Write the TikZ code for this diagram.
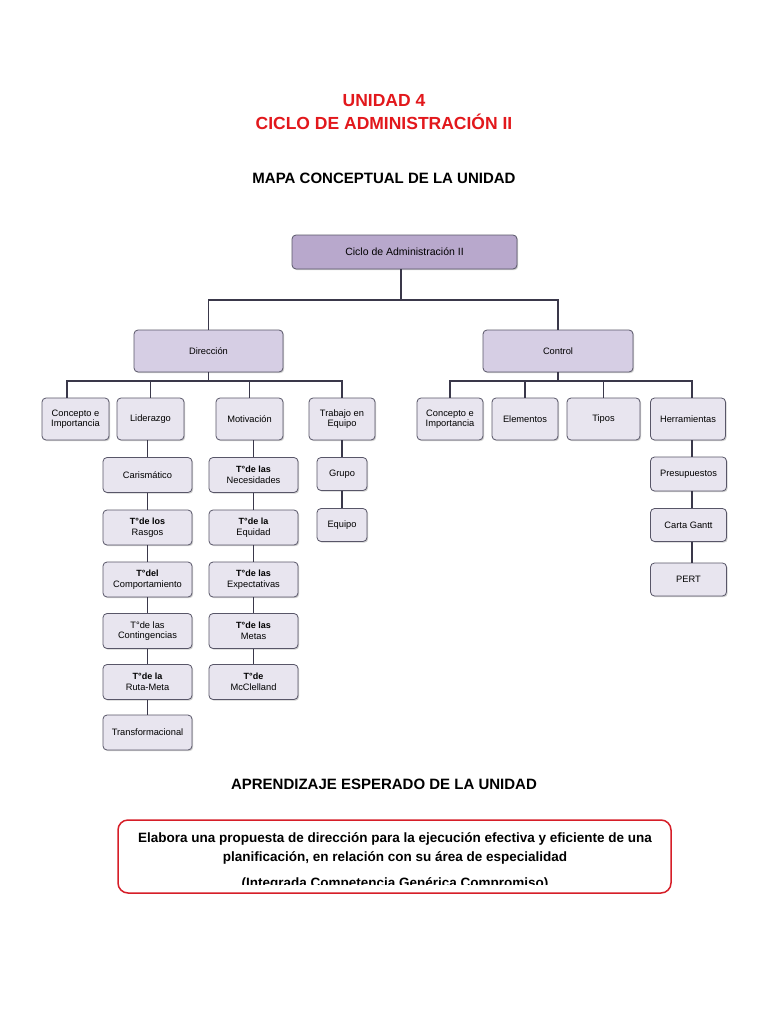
\documentclass[tikz,border=0pt]{standalone}
\usepackage{fontspec}
\setmainfont{Liberation Sans}
\usetikzlibrary{shadows}
\definecolor{titlered}{RGB}{226,24,28}
\definecolor{boxred}{RGB}{214,30,40}
\definecolor{cZero}{RGB}{184,168,204}
\definecolor{cOne}{RGB}{214,206,228}
\definecolor{cTwo}{RGB}{232,229,239}
\definecolor{boxline}{RGB}{88,86,104}
\definecolor{lineclr}{RGB}{58,56,74}
\newcommand{\tline}[1]{{\fontsize{9}{10.5}\selectfont\bfseries #1}}
\tikzset{
  box/.style={draw=boxline, rounded corners=4pt, line width=0.8pt, align=center, inner sep=1pt,
    font=\fontsize{9.3}{10.5}\selectfont,
    drop shadow={shadow xshift=1.2pt, shadow yshift=-1.2pt, opacity=0.3, fill=black!60}},
  lvlzero/.style={box, fill=cZero},
  lvlone/.style={box, fill=cOne},
  lvltwo/.style={box, fill=cTwo},
  conn/.style={draw=lineclr, line width=1.4pt},
  ttl/.style={font=\fontsize{17.5}{20}\selectfont\bfseries, text=titlered, align=center},
  hdr/.style={font=\fontsize{15}{17}\selectfont\bfseries},
  body/.style={font=\fontsize{13.5}{19}\selectfont\bfseries, anchor=base}
}
\begin{document}
\begin{tikzpicture}[x=1pt,y=-1pt]
\useasboundingbox[fill=white] (0,0) rectangle (768,1024);

% titles
\node[ttl] (t1) at (384,101) {UNIDAD 4};
\node[ttl] (t2) at (384,122) {CICLO DE ADMINISTRACIÓN II};
\node[hdr] (t3) at (384,178) {MAPA CONCEPTUAL DE LA UNIDAD};

% root
\node[lvlzero, minimum width=225pt, minimum height=34pt, font=\fontsize{10.5}{12}\selectfont] (root) at (404.5,252) {Ciclo de Administración II};
% level 1
\node[lvlone, minimum width=149pt, minimum height=42pt] (dir) at (208.5,351) {Dirección};
\node[lvlone, minimum width=150pt, minimum height=42pt] (ctl) at (558,351) {Control};

% level 2 Dirección
\node[lvltwo, minimum width=67pt, minimum height=42pt] (dconc) at (75.5,419) {Concepto e\\Importancia};
\node[lvltwo, minimum width=67pt, minimum height=42pt] (lid) at (150.5,419) {Liderazgo};
\node[lvltwo, minimum width=67pt, minimum height=42pt] (mot) at (249.5,419) {Motivación};
\node[lvltwo, minimum width=66pt, minimum height=42pt] (trab) at (342,419) {Trabajo en\\Equipo};

% level 2 Control
\node[lvltwo, minimum width=66pt, minimum height=42pt] (cconc) at (450,419) {Concepto e\\Importancia};
\node[lvltwo, minimum width=66pt, minimum height=42pt] (elem) at (525,419) {Elementos};
\node[lvltwo, minimum width=73pt, minimum height=42pt] (tipos) at (603.5,419) {Tipos};
\node[lvltwo, minimum width=75pt, minimum height=42pt] (herr) at (688,419) {Herramientas};

% Liderazgo chain
\node[lvltwo, minimum width=89pt, minimum height=35pt] (car) at (147.5,475) {Carismático};
\node[lvltwo, minimum width=89pt, minimum height=35pt] (ras) at (147.5,527.5) {\tline{T°de los}\\Rasgos};
\node[lvltwo, minimum width=89pt, minimum height=35pt] (com) at (147.5,579.5) {\tline{T°del}\\Comportamiento};
\node[lvltwo, minimum width=89pt, minimum height=35pt] (con) at (147.5,631) {T°de las\\Contingencias};
\node[lvltwo, minimum width=89pt, minimum height=35pt] (rut) at (147.5,682) {\tline{T°de la}\\Ruta-Meta};
\node[lvltwo, minimum width=89pt, minimum height=35pt] (tra) at (147.5,732.5) {Transformacional};

% Motivación chain
\node[lvltwo, minimum width=89pt, minimum height=35pt] (nec) at (253.5,475) {\tline{T°de las}\\Necesidades};
\node[lvltwo, minimum width=89pt, minimum height=35pt] (equ) at (253.5,527.5) {\tline{T°de la}\\Equidad};
\node[lvltwo, minimum width=89pt, minimum height=35pt] (exp) at (253.5,579.5) {\tline{T°de las}\\Expectativas};
\node[lvltwo, minimum width=89pt, minimum height=35pt] (met) at (253.5,631) {\tline{T°de las}\\Metas};
\node[lvltwo, minimum width=89pt, minimum height=35pt] (mcc) at (253.5,682) {\tline{T°de}\\McClelland};

% Trabajo chain
\node[lvltwo, minimum width=50pt, minimum height=33pt] (gru) at (342,474) {Grupo};
\node[lvltwo, minimum width=50pt, minimum height=33pt] (eqp) at (342,525) {Equipo};

% Herramientas chain
\node[lvltwo, minimum width=76pt, minimum height=34pt] (pre) at (688.5,474) {Presupuestos};
\node[lvltwo, minimum width=76pt, minimum height=33pt] (gan) at (688.5,525) {Carta Gantt};
\node[lvltwo, minimum width=76pt, minimum height=33pt] (per) at (688.5,579.5) {PERT};

% connectors
\draw[conn] (root.south -| 401,0) -- (401,300) coordinate (bus0);
\draw[conn] (bus0) -| (dir.north);
\draw[conn] (bus0) -| (ctl.north);

\draw[conn] (dir.south) -- (dir.south |- 0,381) coordinate (busd);
\draw[conn] (busd) -| (dconc.north -| 67,0);
\draw[conn] (busd) -| (trab.north);
\draw[conn] (lid.north) -- (lid.north |- busd);
\draw[conn] (mot.north) -- (mot.north |- busd);

\draw[conn] (ctl.south) -- (ctl.south |- 0,381) coordinate (busc);
\draw[conn] (busc) -| (cconc.north);
\draw[conn] (busc) -| (herr.north -| 692,0);
\draw[conn] (elem.north) -- (elem.north |- busc);
\draw[conn] (tipos.north) -- (tipos.north |- busc);

\draw[conn] (lid.south -| car.north) -- (car.north);
\draw[conn] (car.south) -- (ras.north);
\draw[conn] (ras.south) -- (com.north);
\draw[conn] (com.south) -- (con.north);
\draw[conn] (con.south) -- (rut.north);
\draw[conn] (rut.south) -- (tra.north);

\draw[conn] (mot.south -| nec.north) -- (nec.north);
\draw[conn] (nec.south) -- (equ.north);
\draw[conn] (equ.south) -- (exp.north);
\draw[conn] (exp.south) -- (met.north);
\draw[conn] (met.south) -- (mcc.north);

\draw[conn] (trab.south) -- (gru.north);
\draw[conn] (gru.south) -- (eqp.north);

\draw[conn] (herr.south -| 692,0) -- (pre.north -| 692,0);
\draw[conn] (pre.south -| 692,0) -- (gan.north -| 692,0);
\draw[conn] (gan.south -| 692,0) -- (per.north -| 692,0);

% bottom section
\node[hdr] (t4) at (384,784) {APRENDIZAJE ESPERADO DE LA UNIDAD};
\node[draw=boxred, line width=1.5pt, rounded corners=10pt, minimum width=553pt, minimum height=73pt] (apr) at (394.5,856.5) {};
\node[body] (aprl1) at (395,842) {Elabora una propuesta de dirección para la ejecución efectiva y eficiente de una};
\node[body] (aprl2) at (395,861) {planificación, en relación con su área de especialidad};
\begin{scope}
\clip (120,870) rectangle (670,884.5);
\node[body] (aprc) at (395,887) {(Integrada Competencia Genérica Compromiso)};
\end{scope}
\end{tikzpicture}
\end{document}
